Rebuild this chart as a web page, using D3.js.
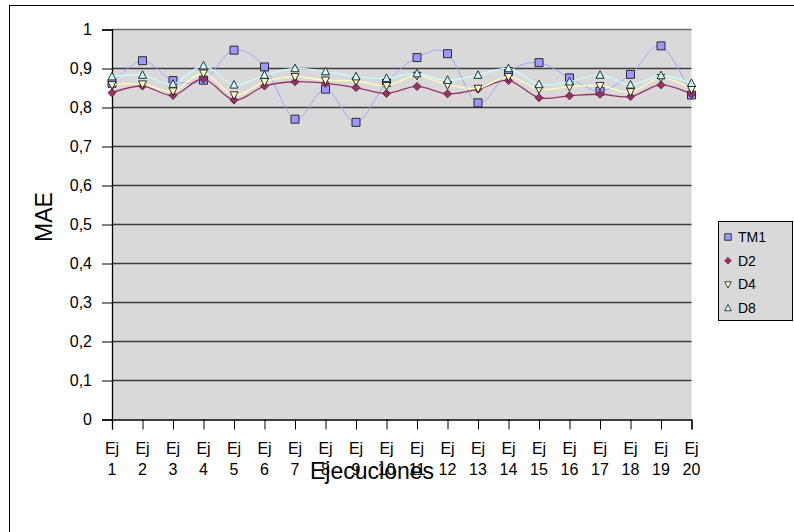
<!DOCTYPE html>
<html>
<head>
<meta charset="utf-8">
<script src="https://cdn.jsdelivr.net/npm/d3@7"></script>
<style>
  body { margin: 0; background: #fff; }
  svg { display: block; font-family: "Liberation Sans", Arial, sans-serif; }
</style>
</head>
<body>
<div class="container"></div>
<script>
// chart values
const categories = ["Ej 1", "Ej 2", "Ej 3", "Ej 4", "Ej 5", "Ej 6", "Ej 7", "Ej 8", "Ej 9", "Ej 10",
    "Ej 11", "Ej 12", "Ej 13", "Ej 14", "Ej 15", "Ej 16", "Ej 17", "Ej 18", "Ej 19", "Ej 20"];
const tm1 = [0.862, 0.920, 0.869, 0.870, 0.947, 0.904, 0.770, 0.847, 0.762, 0.864,
    0.928, 0.938, 0.812, 0.892, 0.915, 0.876, 0.842, 0.885, 0.958, 0.832];
const d2 = [0.838, 0.855, 0.831, 0.873, 0.819, 0.855, 0.866, 0.862, 0.851, 0.836,
    0.854, 0.835, 0.847, 0.869, 0.825, 0.830, 0.834, 0.828, 0.858, 0.834];
const d4 = [0.858, 0.860, 0.842, 0.888, 0.832, 0.866, 0.879, 0.870, 0.868, 0.856,
    0.882, 0.858, 0.849, 0.879, 0.847, 0.853, 0.856, 0.840, 0.876, 0.847];
const d8 = [0.879, 0.883, 0.860, 0.907, 0.858, 0.883, 0.900, 0.892, 0.879, 0.875,
    0.887, 0.870, 0.883, 0.900, 0.859, 0.866, 0.883, 0.858, 0.882, 0.862];
const yTicks = [0, 0.1, 0.2, 0.3, 0.4, 0.5, 0.6, 0.7, 0.8, 0.9, 1];

const series = [
    { name: "TM1", values: tm1, color: "#9999ff", line: "#a3a3ff", shape: "square", lw: 1 },
    { name: "D2", values: d2, color: "#993366", line: "#993366", shape: "diamond", lw: 1.3 },
    { name: "D4", values: d4, color: "#ffffcc", line: "#ffffb8", shape: "down", lw: 1.3 },
    { name: "D8", values: d8, color: "#ccffff", line: "#c4ffff", shape: "up", lw: 1.3 },
];

const width = 794, height = 532;
const plot = { left: 112, right: 691.5, top: 29.5, bottom: 419.5 };

const svg = d3.select(".container").append("svg")
    .attr("width", width).attr("height", height);

// outer chart frame (only left/top edges are inside the picture)
svg.append("rect")
    .attr("x", 9.5).attr("y", 5.5)
    .attr("width", 800).attr("height", 540)
    .attr("fill", "#fff").attr("stroke", "#000");

const x = d3.scalePoint().domain(categories).range([plot.left, plot.right]);
const y = d3.scaleLinear().domain([0, 1]).range([plot.bottom, plot.top]);

svg.append("rect")
    .attr("x", plot.left).attr("y", plot.top)
    .attr("width", plot.right - plot.left).attr("height", plot.bottom - plot.top)
    .attr("fill", "#d9d9d9");

// gridlines
svg.append("g").selectAll("line")
    .data(yTicks.filter(d => d > 0))
    .enter().append("line")
    .attr("x1", plot.left).attr("x2", plot.right)
    .attr("y1", d => y(d)).attr("y2", d => y(d))
    .attr("stroke", d => d === 1 ? "#6a6a6a" : "#3c3c3c")
    .attr("stroke-width", 1.3);

const locale = d3.formatLocale({ decimal: ",", thousands: ".", grouping: [3], currency: ["", ""] });
const fmt = locale.format("~g");

// y axis
const yAxis = svg.append("g")
    .attr("transform", `translate(${plot.left},0)`)
    .call(d3.axisLeft(y).tickValues(yTicks).tickSize(10).tickPadding(10).tickFormat(fmt));
yAxis.select(".domain").attr("stroke", "#000").attr("stroke-width", 1.3);
yAxis.selectAll(".tick line").attr("stroke", "#000");
yAxis.selectAll(".tick text")
    .attr("font-size", 16).attr("fill", "#000")
    .attr("font-family", "Liberation Sans, Arial, sans-serif");

// x axis
const xAxis = svg.append("g")
    .attr("transform", `translate(0,${plot.bottom})`)
    .call(d3.axisBottom(x).tickSize(10).tickFormat(""));
xAxis.select(".domain").attr("stroke", "#000").attr("stroke-width", 1.3);
xAxis.selectAll(".tick line").attr("stroke", "#000");

const xl = svg.append("g").selectAll("text")
    .data(categories)
    .enter().append("text")
    .attr("text-anchor", "middle")
    .attr("font-size", 16)
    .attr("fill", "#000");
xl.append("tspan")
    .attr("x", d => x(d)).attr("y", 453.5)
    .text(d => d.split(" ")[0]);
xl.append("tspan")
    .attr("x", d => x(d)).attr("y", 475)
    .text(d => d.split(" ")[1]);

// axis titles
svg.append("text")
    .attr("x", 372).attr("y", 479)
    .attr("text-anchor", "middle")
    .attr("font-size", 23)
    .text("Ejecuciones");

svg.append("text")
    .attr("transform", "translate(51.5,217) rotate(-90)")
    .attr("text-anchor", "middle")
    .attr("font-size", 23)
    .text("MAE");

const symbolPath = (shape, s) => {
    if (shape === "square") return `M${-s},${-s}H${s}V${s}H${-s}Z`;
    if (shape === "diamond") return `M0,${-s}L${s},0L0,${s}L${-s},0Z`;
    if (shape === "up") return `M0,${-s * 1.1}L${s},${s * 0.8}L${-s},${s * 0.8}Z`;
    return `M0,${s * 1.1}L${s},${-s * 0.8}L${-s},${-s * 0.8}Z`;
};

const line = d3.line()
    .x((d, i) => x(categories[i]))
    .y(d => y(d))
    .curve(d3.curveCardinal.tension(0));

series.forEach((s) => {
    const g = svg.append("g");
    g.append("path")
        .attr("d", line(s.values))
        .attr("fill", "none")
        .attr("stroke", s.line)
        .attr("stroke-width", s.lw);

    g.selectAll("path.mark")
        .data(s.values)
        .enter().append("path")
        .attr("class", "mark")
        .attr("transform", (d, i) => `translate(${x(categories[i])},${y(d)})`)
        .attr("d", symbolPath(s.shape, s.shape === "diamond" ? 4 : 4))
        .attr("fill", s.color)
        .attr("stroke", s.shape === "diamond" ? "#5a1f3c" : "#1a1a1a")
        .attr("stroke-width", 0.9);
});

// legend
const legend = svg.append("g");
legend.append("rect")
    .attr("x", 718.5).attr("y", 221.5)
    .attr("width", 74).attr("height", 99)
    .attr("fill", "#d9d9d9").attr("stroke", "#000");

const li = legend.selectAll("g.item")
    .data(series)
    .enter().append("g")
    .attr("class", "item")
    .attr("transform", (d, i) => `translate(728,${237 + i * 23.7})`);
li.append("path")
    .attr("d", d => symbolPath(d.shape, 3.3))
    .attr("fill", d => d.color)
    .attr("stroke", d => d.shape === "diamond" ? "#5a1f3c" : "#1a1a1a")
    .attr("stroke-width", 0.8);
li.append("text")
    .attr("x", 10).attr("y", 5)
    .attr("font-size", 14)
    .text(d => d.name);
</script>
</body>
</html>
